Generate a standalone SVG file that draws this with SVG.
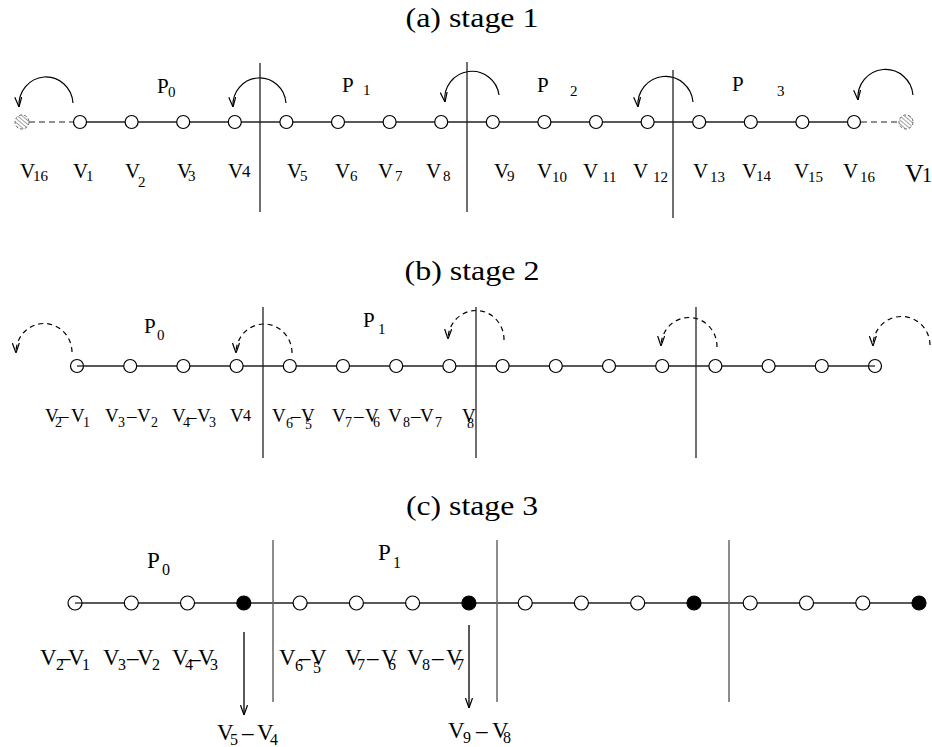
<svg xmlns="http://www.w3.org/2000/svg" width="932" height="747" viewBox="0 0 932 747">
<style>
text{font-family:"Liberation Serif","Times New Roman",serif;fill:#000}
.t{font-size:28px}
.l1{font-size:21px}.s1{font-size:15px}
.l2{font-size:19px}.s2{font-size:14px}
.l3{font-size:23px}.s3{font-size:16px}
.nd{fill:#fff;stroke:#000;stroke-width:1.2}
.fd{fill:#000;stroke:#000;stroke-width:1.2}
.ln{stroke:#222;stroke-width:1.3;fill:none}
.dv{stroke:#222;stroke-width:1.3}
.dv3{stroke:#666;stroke-width:1.5}
.arc{stroke:#000;stroke-width:1.2;fill:none;marker-end:url(#ah)}
.darc{stroke:#000;stroke-width:1.2;fill:none;stroke-dasharray:5 4;marker-end:url(#ah)}
.dl{stroke:#222;stroke-width:1.2;stroke-dasharray:6 4}
.ar{stroke:#000;stroke-width:1.3;marker-end:url(#ah)}
</style>
<defs>
<marker id="ah" markerUnits="userSpaceOnUse" viewBox="0 0 10 8" markerWidth="10" markerHeight="8" refX="10" refY="4" orient="auto">
<path d="M0,0.5 L10,4 L0,7.5" fill="none" stroke="#000" stroke-width="1.2" stroke-dasharray="none"/>
</marker>
<pattern id="hatch" patternUnits="userSpaceOnUse" width="3" height="3" patternTransform="rotate(-50)">
<line x1="0" y1="0" x2="0" y2="3" stroke="#555" stroke-width="1.1"/>
</pattern>
</defs>

<g id="titles">
<text class="t" x="472" y="27" text-anchor="middle" textLength="133" lengthAdjust="spacingAndGlyphs">(a) stage 1</text>
<text class="t" x="472" y="280" text-anchor="middle" textLength="135" lengthAdjust="spacingAndGlyphs">(b) stage 2</text>
<text class="t" x="472" y="515" text-anchor="middle" textLength="132" lengthAdjust="spacingAndGlyphs">(c) stage 3</text>
</g>

<g id="connectors">
<line class="ln" x1="80" y1="122" x2="854" y2="122"/>
<line class="dl" x1="29" y1="122" x2="73" y2="122"/>
<line class="dl" x1="861" y1="122" x2="899" y2="122"/>
<path class="arc" d="M73,103 A27,28 0 1 0 19,107"/>
<path class="arc" d="M286,103 A26.5,27 0 1 0 233,107"/>
<path class="arc" d="M499,95 A27,27 0 1 0 445,102"/>
<path class="arc" d="M693,102 A27.5,28 0 1 0 638,107"/>
<path class="arc" d="M913,95 A27.5,28 0 1 0 858,100"/>
<line class="ln" x1="77" y1="366" x2="875" y2="366"/>
<path class="darc" d="M72,352 A28,29 0 1 0 16,353"/>
<path class="darc" d="M292,353 A28,29 0 1 0 236,353"/>
<path class="darc" d="M504,340 A28,29 0 1 0 448,339"/>
<path class="darc" d="M717,347 A28,29 0 1 0 661,346"/>
<path class="darc" d="M930,345 A28.5,29 0 1 0 873,346"/>
<line class="ln" x1="75" y1="603" x2="919" y2="603"/>
<line class="ar" x1="244" y1="632" x2="244" y2="715"/>
<line class="ar" x1="469" y1="625" x2="469" y2="708"/>
</g>

<g id="dividers">
<line class="dv" x1="260" y1="63" x2="260" y2="212"/>
<line class="dv" x1="467" y1="62" x2="467" y2="212"/>
<line class="dv" x1="673" y1="70" x2="673" y2="218"/>
<line class="dv" x1="263" y1="307" x2="263" y2="458"/>
<line class="dv" x1="476" y1="307" x2="476" y2="458"/>
<line class="dv" x1="696" y1="307" x2="696" y2="458"/>
<line class="dv3" x1="273" y1="540" x2="273" y2="702"/>
<line class="dv3" x1="497" y1="540" x2="497" y2="702"/>
<line class="dv3" x1="729" y1="540" x2="729" y2="702"/>
</g>

<g id="stage1">
<g id="s1-v16a"><circle cx="22" cy="122" r="7" fill="url(#hatch)" stroke="#666" stroke-width="1" stroke-dasharray="3 2"/><text class="l1" x="20" y="178">V<tspan class="s1" x="33" y="181">16</tspan></text></g>
<g id="s1-v1"><circle class="nd" cx="80" cy="122" r="6.5"/><text class="l1" x="73" y="178">V<tspan class="s1" x="86" y="181">1</tspan></text></g>
<g id="s1-v2"><circle class="nd" cx="131.6" cy="122" r="6.5"/><text class="l1" x="125" y="178">V<tspan class="s1" x="138" y="187">2</tspan></text></g>
<g id="s1-v3"><circle class="nd" cx="183.2" cy="122" r="6.5"/><text class="l1" x="177" y="178">V<tspan class="s1" x="188" y="181">3</tspan></text></g>
<g id="s1-v4"><circle class="nd" cx="234.8" cy="122" r="6.5"/><text class="l1" x="228" y="178">V<tspan style="font-size:17px" x="242" y="177">4</tspan></text></g>
<g id="s1-v5"><circle class="nd" cx="286.4" cy="122" r="6.5"/><text class="l1" x="287" y="178">V<tspan class="s1" x="300" y="181">5</tspan></text></g>
<g id="s1-v6"><circle class="nd" cx="338" cy="122" r="6.5"/><text class="l1" x="335" y="178">V<tspan class="s1" x="350" y="181">6</tspan></text></g>
<g id="s1-v7"><circle class="nd" cx="389.6" cy="122" r="6.5"/><text class="l1" x="378" y="178">V<tspan class="s1" x="395" y="181">7</tspan></text></g>
<g id="s1-v8"><circle class="nd" cx="441.2" cy="122" r="6.5"/><text class="l1" x="426" y="178">V<tspan class="s1" x="443" y="181">8</tspan></text></g>
<g id="s1-v9"><circle class="nd" cx="492.8" cy="122" r="6.5"/><text class="l1" x="494" y="178">V<tspan class="s1" x="507" y="181">9</tspan></text></g>
<g id="s1-v10"><circle class="nd" cx="544.4" cy="122" r="6.5"/><text class="l1" x="537" y="178">V<tspan class="s1" x="552" y="182">10</tspan></text></g>
<g id="s1-v11"><circle class="nd" cx="596" cy="122" r="6.5"/><text class="l1" x="583" y="178">V<tspan class="s1" x="602" y="182">11</tspan></text></g>
<g id="s1-v12"><circle class="nd" cx="647.6" cy="122" r="6.5"/><text class="l1" x="633" y="178">V<tspan class="s1" x="653" y="182">12</tspan></text></g>
<g id="s1-v13"><circle class="nd" cx="699.2" cy="122" r="6.5"/><text class="l1" x="693" y="178">V<tspan class="s1" x="710" y="182">13</tspan></text></g>
<g id="s1-v14"><circle class="nd" cx="750.8" cy="122" r="6.5"/><text class="l1" x="742" y="178">V<tspan class="s1" x="756" y="181">14</tspan></text></g>
<g id="s1-v15"><circle class="nd" cx="802.4" cy="122" r="6.5"/><text class="l1" x="794" y="178">V<tspan class="s1" x="808" y="182">15</tspan></text></g>
<g id="s1-v16"><circle class="nd" cx="854" cy="122" r="6.5"/><text class="l1" x="843" y="178">V<tspan class="s1" x="860" y="182">16</tspan></text></g>
<g id="s1-v1b"><circle cx="906" cy="122" r="7" fill="url(#hatch)" stroke="#666" stroke-width="1" stroke-dasharray="3 2"/><text style="font-size:26px" x="905" y="182">V<tspan style="font-size:20px" x="922" y="182">1</tspan></text></g>
<g id="s1-p0"><text class="l1" x="157" y="93">P<tspan class="s1" x="168" y="97">0</tspan></text></g>
<g id="s1-p1"><text class="l1" x="342" y="92">P<tspan class="s1" x="363" y="95">1</tspan></text></g>
<g id="s1-p2"><text class="l1" x="537" y="92">P<tspan class="s1" x="570" y="96">2</tspan></text></g>
<g id="s1-p3"><text class="l1" x="732" y="91">P<tspan class="s1" x="777" y="96">3</tspan></text></g>
</g>

<g id="stage2">
<circle class="nd" cx="77" cy="366" r="6.5"/><line class="ln" x1="77" y1="366" x2="84" y2="366"/>
<circle class="nd" cx="130.2" cy="366" r="6.5"/>
<circle class="nd" cx="183.4" cy="366" r="6.5"/>
<circle class="nd" cx="236.6" cy="366" r="6.5"/>
<circle class="nd" cx="289.8" cy="366" r="6.5"/>
<circle class="nd" cx="343" cy="366" r="6.5"/>
<circle class="nd" cx="396.2" cy="366" r="6.5"/>
<circle class="nd" cx="449.4" cy="366" r="6.5"/>
<circle class="nd" cx="502.6" cy="366" r="6.5"/>
<circle class="nd" cx="555.8" cy="366" r="6.5"/>
<circle class="nd" cx="609" cy="366" r="6.5"/>
<circle class="nd" cx="662.2" cy="366" r="6.5"/>
<circle class="nd" cx="715.4" cy="366" r="6.5"/>
<circle class="nd" cx="768.6" cy="366" r="6.5"/>
<circle class="nd" cx="821.8" cy="366" r="6.5"/>
<circle class="nd" cx="875" cy="366" r="6.5"/><line class="ln" x1="868" y1="366" x2="875" y2="366"/>
<g id="s2-l1"><text class="l2" x="45" y="422">V<tspan class="s2" x="55" y="427">2</tspan><tspan x="59" y="422">–</tspan><tspan x="71" y="422">V</tspan><tspan class="s2" x="83" y="427">1</tspan></text></g>
<g id="s2-l2"><text class="l2" x="105" y="422">V<tspan class="s2" x="118" y="427">3</tspan><tspan x="127" y="422">–</tspan><tspan x="137" y="422">V</tspan><tspan class="s2" x="151" y="427">2</tspan></text></g>
<g id="s2-l3"><text class="l2" x="172" y="422">V<tspan class="s2" x="183" y="427">4</tspan><tspan x="187" y="423">–</tspan><tspan x="197" y="422">V</tspan><tspan class="s2" x="209" y="427">3</tspan></text></g>
<g id="s2-l4"><text class="l2" x="230" y="422">V<tspan style="font-size:16px" x="243" y="421">4</tspan></text></g>
<g id="s2-l5"><text class="l2" x="272" y="422">V<tspan class="s2" x="286" y="428">6</tspan><tspan x="291" y="422">–</tspan><tspan x="301" y="422">V</tspan><tspan class="s2" x="305" y="429">5</tspan></text></g>
<g id="s2-l6"><text class="l2" x="332" y="422">V<tspan class="s2" x="345" y="427">7</tspan><tspan x="354" y="422">–</tspan><tspan x="365" y="422">V</tspan><tspan class="s2" x="373" y="427">6</tspan></text></g>
<g id="s2-l7"><text class="l2" x="388" y="422">V<tspan class="s2" x="403" y="427">8</tspan><tspan x="411" y="422">–</tspan><tspan x="420" y="422">V</tspan><tspan class="s2" x="435" y="427">7</tspan></text></g>
<g id="s2-l8"><text class="l2" x="462" y="422">V<tspan class="s2" x="467" y="428">8</tspan></text></g>
<g id="s2-p0"><text style="font-size:21px" x="144" y="333">P<tspan class="s1" x="157" y="340">0</tspan></text></g>
<g id="s2-p1"><text style="font-size:21px" x="363" y="327">P<tspan class="s1" x="378" y="334">1</tspan></text></g>
</g>

<g id="stage3">
<circle class="nd" cx="75" cy="603" r="7"/><line class="ln" x1="75" y1="603" x2="82" y2="603"/>
<circle class="nd" cx="131.3" cy="603" r="7"/>
<circle class="nd" cx="187.5" cy="603" r="7"/>
<circle class="fd" cx="243.8" cy="603" r="7"/>
<circle class="nd" cx="300.1" cy="603" r="7"/>
<circle class="nd" cx="356.4" cy="603" r="7"/>
<circle class="nd" cx="412.6" cy="603" r="7"/>
<circle class="fd" cx="468.9" cy="603" r="7"/>
<circle class="nd" cx="525.2" cy="603" r="7"/>
<circle class="nd" cx="581.4" cy="603" r="7"/>
<circle class="nd" cx="637.7" cy="603" r="7"/>
<circle class="fd" cx="694" cy="603" r="7"/>
<circle class="nd" cx="750.2" cy="603" r="7"/>
<circle class="nd" cx="806.5" cy="603" r="7"/>
<circle class="nd" cx="862.8" cy="603" r="7"/>
<circle class="fd" cx="919" cy="603" r="7"/>
<g id="s3-l1"><text class="l3" x="40" y="665">V<tspan class="s3" x="56" y="670">2</tspan><tspan x="59" y="665">–</tspan><tspan x="68" y="665">V</tspan><tspan class="s3" x="82" y="670">1</tspan></text></g>
<g id="s3-l2"><text class="l3" x="103" y="665">V<tspan class="s3" x="118" y="670">3</tspan><tspan x="127" y="665">–</tspan><tspan x="137" y="665">V</tspan><tspan class="s3" x="152" y="670">2</tspan></text></g>
<g id="s3-l3"><text class="l3" x="172" y="665">V<tspan class="s3" x="185" y="670">4</tspan><tspan x="189" y="666">–</tspan><tspan x="198" y="665">V</tspan><tspan class="s3" x="210" y="670">3</tspan></text></g>
<g id="s3-l4"><text class="l3" x="279" y="665">V<tspan class="s3" x="295" y="671">6</tspan><tspan x="299" y="665">–</tspan><tspan x="310" y="665">V</tspan><tspan class="s3" x="313" y="673">5</tspan></text></g>
<g id="s3-l5"><text class="l3" x="345" y="665">V<tspan class="s3" x="357" y="670">7</tspan><tspan x="367" y="665">–</tspan><tspan x="381" y="665">V</tspan><tspan class="s3" x="388" y="670">6</tspan></text></g>
<g id="s3-l6"><text class="l3" x="407" y="665">V<tspan class="s3" x="422" y="670">8</tspan><tspan x="432" y="665">–</tspan><tspan x="446" y="665">V</tspan><tspan class="s3" x="456" y="670">7</tspan></text></g>
<g id="s3-b1"><text class="l3" x="217" y="740">V<tspan class="s3" x="230" y="745">5</tspan><tspan x="242" y="740">–</tspan><tspan x="257" y="740">V</tspan><tspan class="s3" x="270" y="745">4</tspan></text></g>
<g id="s3-b2"><text class="l3" x="448" y="738">V<tspan class="s3" x="463" y="743">9</tspan><tspan x="476" y="738">–</tspan><tspan x="492" y="738">V</tspan><tspan class="s3" x="503" y="743">8</tspan></text></g>
<g id="s3-p0"><text class="l3" x="147" y="568">P<tspan class="s3" x="162" y="575">0</tspan></text></g>
<g id="s3-p1"><text class="l3" x="378" y="560">P<tspan class="s3" x="393" y="568">1</tspan></text></g>
</g>
</svg>
